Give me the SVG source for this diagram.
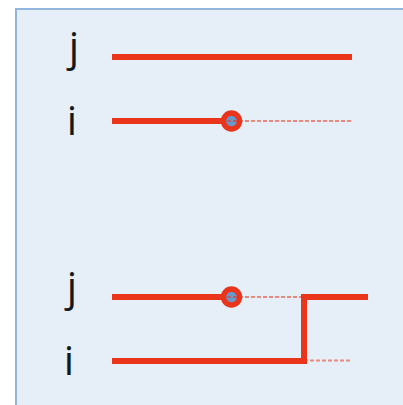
<svg xmlns="http://www.w3.org/2000/svg" width="403" height="405" viewBox="0 0 403 405">
<style>
.lbl{font-family:"Open Sans","Noto Sans",sans-serif;font-size:41px;fill:#111820;text-anchor:middle}
.ln{stroke:#ea351d;stroke-width:6;fill:none}
.dash{stroke:#ea351d;stroke-opacity:0.55;stroke-width:2;stroke-dasharray:4 2;fill:none}
.dot{fill:#6699cc;stroke:#ea351d;stroke-width:5.5}
</style>
<rect x="16" y="9" width="400" height="410" fill="#e6eef7" stroke="#92b5dc" stroke-width="2"/>
<g id="labels">
<text class="lbl" x="74" y="61">j</text>
<text class="lbl" x="72" y="135">i</text>
<text class="lbl" x="72" y="301">j</text>
<text class="lbl" x="69" y="375">i</text>
</g>
<g id="node-top"><circle class="dot" cx="231.5" cy="121" r="8"/></g>
<g id="node-bottom"><circle class="dot" cx="231.5" cy="297" r="8"/></g>
<g id="connectors">
<line class="ln" x1="112" y1="57" x2="352" y2="57"/>
<line class="ln" x1="112" y1="121" x2="224" y2="121"/>
<line class="ln" x1="112" y1="297" x2="224" y2="297"/>
<polyline class="ln" points="112,361 304,361 304,297 368,297"/>
<line class="dash" x1="227" y1="121" x2="352" y2="121"/>
<line class="dash" x1="227" y1="297" x2="304" y2="297"/>
<line class="dash" x1="304" y1="360.5" x2="352" y2="360.5"/>
</g>
</svg>
